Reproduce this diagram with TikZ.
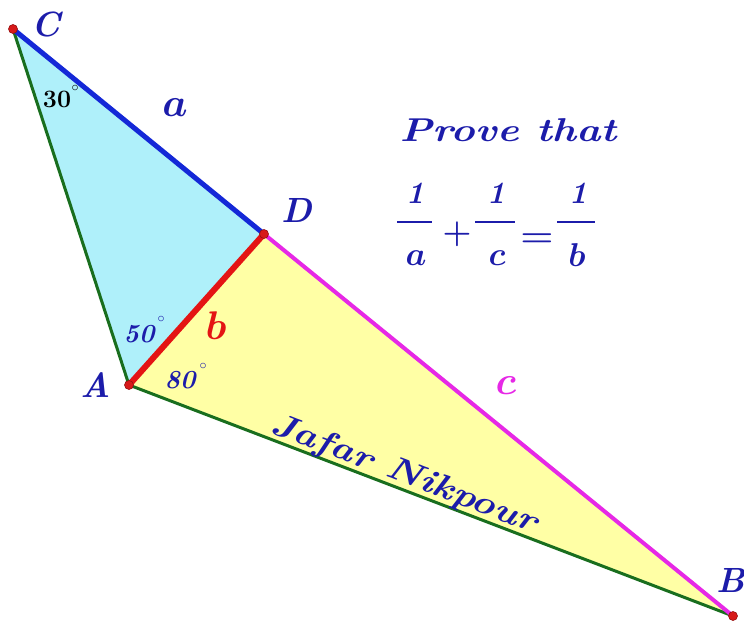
\RequirePackage{fix-cm}
\documentclass[tikz,border=0pt]{standalone}
\usepackage{amsmath,graphicx}
\begin{document}
\begin{tikzpicture}[x=1pt,y=-1pt,
  lbl/.style={font=\fontsize{35}{35}\selectfont\bfseries\itshape, text=txtblue, inner sep=0pt},
  side/.style={font=\fontsize{40}{40}\selectfont\boldmath, inner sep=0pt},
  ang/.style={font=\fontsize{25}{25}\selectfont\bfseries, inner sep=0pt},
  frac/.style={font=\fontsize{33}{33}\selectfont\boldmath, text=txtblue, inner sep=0pt},
  num/.style={font=\fontsize{31}{31}\selectfont\bfseries\itshape, text=txtblue, inner sep=0pt},
  dot/.style={circle, fill=dotred, draw=dotred!70!black, line width=0.6pt, inner sep=0pt, minimum size=9pt}]
\definecolor{txtblue}{RGB}{28,28,170}
\definecolor{cyanfill}{RGB}{175,240,250}
\definecolor{yelfill}{RGB}{255,255,165}
\definecolor{grn}{RGB}{25,110,30}
\definecolor{bluel}{RGB}{20,40,215}
\definecolor{redl}{RGB}{228,20,20}
\definecolor{mag}{RGB}{230,40,230}
\definecolor{dotred}{RGB}{215,25,25}
\useasboundingbox (0,0) rectangle (744,623);
\coordinate (C) at (13,29);
\coordinate (D) at (264,234);
\coordinate (A) at (129,385);
\coordinate (B) at (733,616);
\fill[cyanfill] (C) -- (D) -- (A) -- cycle;
\fill[yelfill] (A) -- (D) -- (B) -- cycle;
\draw[grn, line width=3pt] (C) -- (A);
\draw[grn, line width=3pt] (A) -- node[pos=0.447, sloped, above=-2pt, font=\fontsize{33}{33}\selectfont\bfseries\itshape, text=txtblue, inner sep=0pt] (jn) {\scalebox{1.2}[1]{Jafar Nikpour}} (B);
\draw[bluel, line width=5pt] (C) -- (D);
\draw[mag, line width=4pt] (D) -- (B);
\draw[redl, line width=6pt] (A) -- (D);
\node[dot] (Cd) at (C) {};
\node[dot] (Dd) at (D) {};
\node[dot] (Ad) at (A) {};
\node[dot] (Bd) at (B) {};
\node[lbl] (Cl) at (46,24) {C};
\node[lbl] (Dl) at (297,210) {D};
\node[lbl] (Al) at (96,385) {A};
\node[lbl, anchor=west] (Bl) at (716,580) {B};
\node[side, text=txtblue] (al) at (175,108) {$a$};
\node[side, text=redl] (bl) at (216,326) {$b$};
\node[side, text=mag] (cl) at (506,386) {$c$};
\node[ang, text=black] (a30) at (57,99) {30};
\node[ang, text=black, font=\fontsize{14}{14}\selectfont] (d30) at (75,88) {$\circ$};
\node[ang, text=txtblue, font=\fontsize{26}{26}\selectfont\bfseries\itshape] (a50) at (139,334) {50};
\node[ang, text=txtblue, font=\fontsize{14}{14}\selectfont] (d50) at (161,319) {$\circ$};
\node[ang, text=txtblue, font=\fontsize{26}{26}\selectfont\bfseries\itshape] (a80) at (180,380) {80};
\node[ang, text=txtblue, font=\fontsize{14}{14}\selectfont] (d80) at (203,366) {$\circ$};
\node[font=\fontsize{33}{33}\selectfont\bfseries\itshape, text=txtblue, inner sep=0pt] (pt) at (508,130) {\scalebox{1.25}[1]{Prove that}};
% equation
\node[num] (n1) at (415,193) {1};
\node[frac] (d1) at (416,258) {$a$};
\node[num] (n2) at (496,193) {1};
\node[frac] (d2) at (497,258) {$c$};
\node[num] (n3) at (578,193) {1};
\node[frac] (d3) at (577,255) {$b$};
\node[frac] (pl) at (457,234) {$+$};
\node[frac] (eqs) at (537,240) {\scalebox{1.15}[1]{$=$}};
\draw[txtblue, line width=1.6pt] (397,222) -- (432,222);
\draw[txtblue, line width=1.6pt] (475,222) -- (515,222);
\draw[txtblue, line width=1.6pt] (557,222) -- (595,222);
\end{tikzpicture}
\end{document}
